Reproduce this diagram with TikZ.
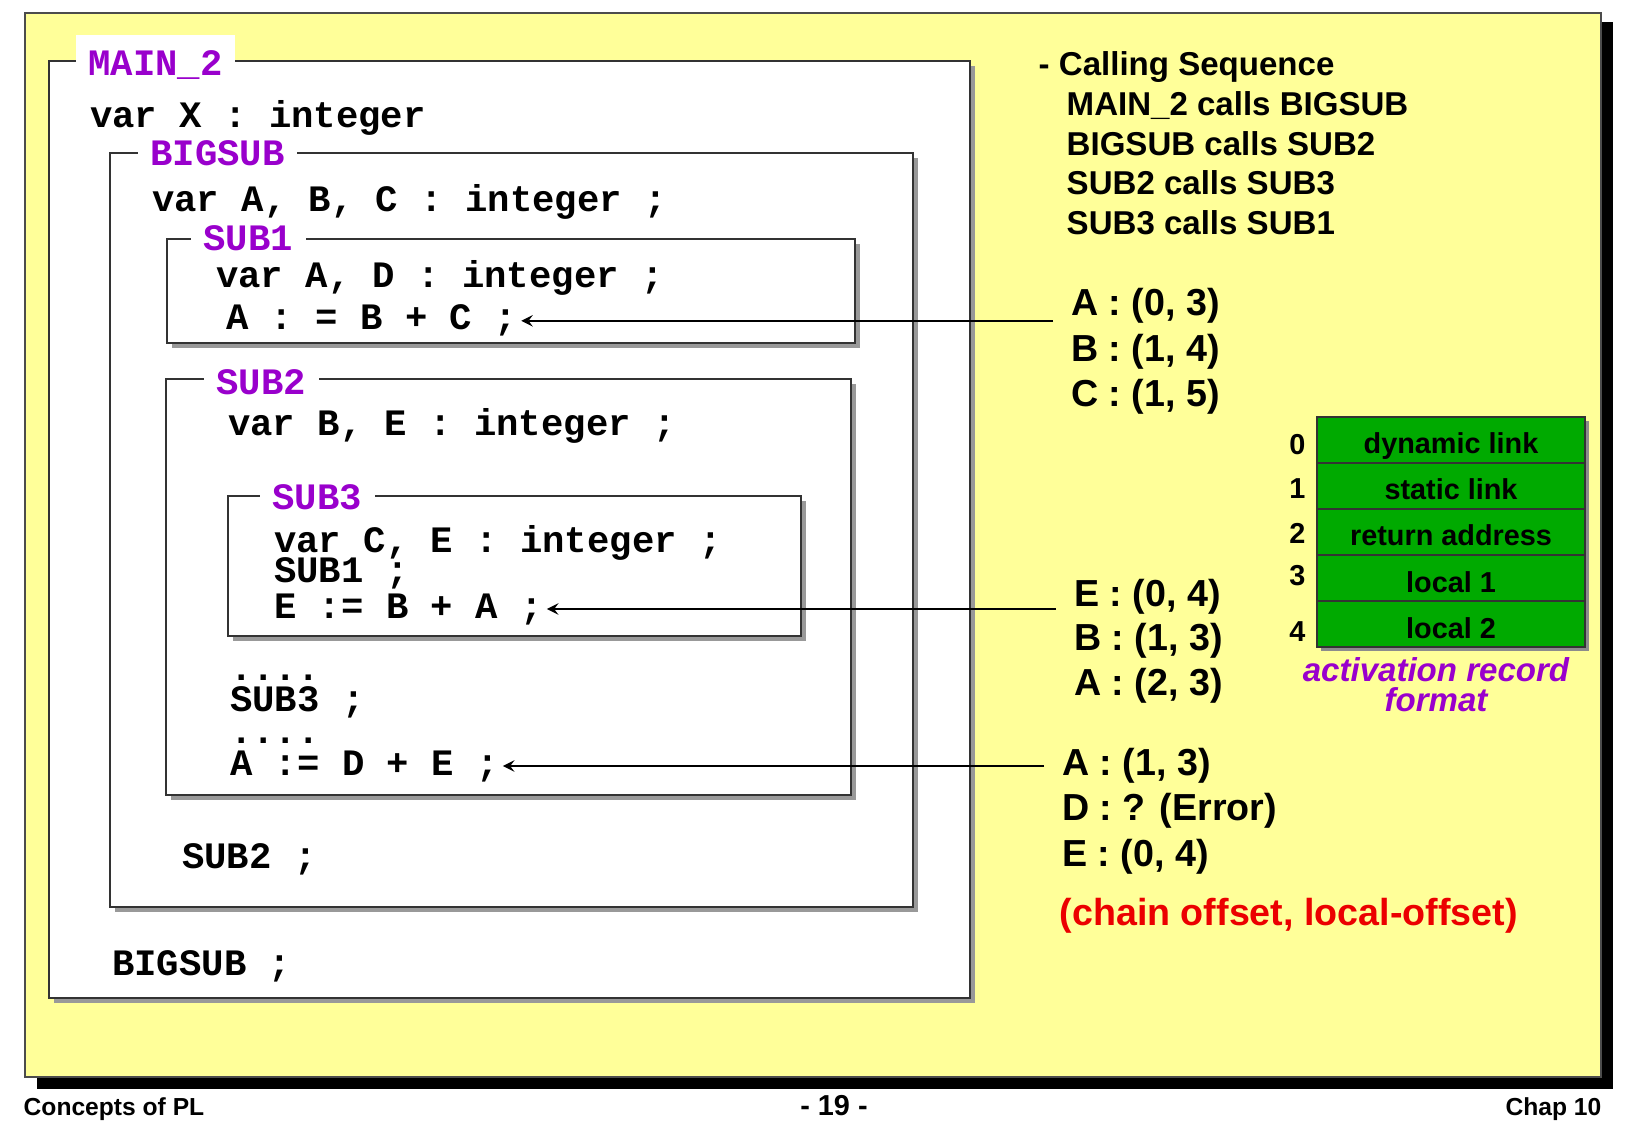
\documentclass[tikz,border=0pt]{standalone}
\usepackage{fontspec}
\setmainfont{Liberation Sans}
\setmonofont{Liberation Mono}
\usepackage{tikz}
\usetikzlibrary{arrows, shadows, positioning}
\definecolor{slideyellow}{RGB}{255,255,153}
\definecolor{labpurple}{RGB}{153,0,204}
\definecolor{argreen}{RGB}{0,170,0}
\definecolor{offred}{RGB}{235,0,0}
\newcommand{\codefont}{\ttfamily\bfseries\fontsize{10.6}{11}\selectfont}
\newcommand{\seqfont}{\bfseries\fontsize{9.4}{10}\selectfont}
\newcommand{\offsfont}{\bfseries\fontsize{10.7}{11}\selectfont}
\newcommand{\cellfont}{\bfseries\fontsize{8.2}{9}\selectfont}
\newcommand{\arcapfont}{\bfseries\itshape\fontsize{9.4}{10}\selectfont}
\newcommand{\pagefont}{\bfseries\fontsize{7}{8}\selectfont}
\tikzstyle{arrow} = [->,>=stealth, line width=0.45pt]
\tikzstyle{box} = [draw=black!80, line width=0.45pt, fill=white, drop shadow={shadow xshift=1.5pt, shadow yshift=-1.5pt, fill=black!40, opacity=1}]
\tikzstyle{tab} = [fill=white, text=labpurple, font=\codefont, inner xsep=3.6pt, inner ysep=1pt, anchor=base west]
\tikzstyle{code} = [font=\codefont, inner sep=1pt, anchor=base west]
\tikzstyle{seq} = [font=\seqfont, inner sep=0pt, anchor=base west]
\tikzstyle{offs} = [font=\offsfont, inner xsep=5pt, inner ysep=0pt, anchor=base west]
\tikzstyle{cell} = [draw=black!80, fill=argreen, minimum width=2.68cm, minimum height=0.46cm, inner sep=0pt, font=\cellfont, text height=1.5ex, text depth=0ex, drop shadow={shadow xshift=1.2pt, shadow yshift=-1.2pt, fill=black!45, opacity=1}]
\tikzstyle{idx} = [font=\cellfont, inner sep=0pt, anchor=east]

\begin{document}
\begin{tikzpicture}[x=0.01cm, y=-0.01cm, node distance=0.46cm]
		\useasboundingbox (0,0) rectangle (1625,1125);
		\fill [white] (0,0) rectangle (1625,1125);
		% slide
		\fill [black] (37,22) rectangle (1613,1089);
		\draw [draw=black!70, fill=slideyellow, line width=0.4pt] (25,13) rectangle (1601,1077);
		% nested program blocks
		\draw [box] (49,61) rectangle (970,998);
		\draw [box] (110,153) rectangle (913,907);
		\draw [box] (167,239) rectangle (855,343);
		\draw [box] (166,379) rectangle (851,795);
		\draw [box] (228,496) rectangle (801,636);
		\node (lmain) [tab, text height=10.7pt] at (75,76) {MAIN\_2};
		\node (lbig) [tab] at (137,166) {BIGSUB};
		\node (lsub1) [tab] at (190,251) {SUB1};
		\node (lsub2) [tab] at (203,395) {SUB2};
		\node (lsub3) [tab] at (259,509) {SUB3};
		\node (varx) [code] at (86,128) {var X : integer};
		\node (varabc) [code] at (148,212) {var A, B, C : integer ;};
		\node (varad) [code] at (212,288) {var A, D : integer ;};
		\node (codeA) [code] at (222,330) {A : = B + C ;};
		\node (varbe) [code] at (224,436) {var B, E : integer ;};
		\node (varce) [code] at (270,552) {var C, E : integer ;};
		\node (callsub1) [code] at (270,583) {SUB1 ;};
		\node (codeE) [code] at (270,618) {E := B + A ;};
		\node (dots1) [code] at (226,680) {....};
		\node (callsub3) [code] at (226,711) {SUB3 ;};
		\node (dots2) [code] at (226,743) {....};
		\node (codeD) [code] at (226,775) {A := D + E ;};
		\node (callsub2) [code] at (178,868) {SUB2 ;};
		\node (callbig) [code] at (108,975) {BIGSUB ;};
		% calling sequence
		\node (cs0) [seq] at (1038,76) {- Calling Sequence};
		\node (cs1) [seq] at (1066,116) {MAIN\_2 calls BIGSUB};
		\node (cs2) [seq] at ([yshift=-0.394cm]cs1.base west) {BIGSUB calls SUB2};
		\node (cs3) [seq] at ([yshift=-0.394cm]cs2.base west) {SUB2 calls SUB3};
		\node (cs4) [seq] at ([yshift=-0.394cm]cs3.base west) {SUB3 calls SUB1};
		% offsets
		\node (offA1) [offs] at (1053,316) {A : (0, 3)};
		\node (offA2) [offs] at ([yshift=-0.45cm]offA1.base west) {B : (1, 4)};
		\node (offA3) [offs] at ([yshift=-0.45cm]offA2.base west) {C : (1, 5)};
		\node (offE1) [offs] at (1056,606) {E : (0, 4)};
		\node (offE2) [offs] at ([yshift=-0.445cm]offE1.base west) {B : (1, 3)};
		\node (offE3) [offs] at ([yshift=-0.445cm]offE2.base west) {A : (2, 3)};
		\node (offD1) [offs] at (1044,775) {A : (1, 3)};
		\node (offD2) [offs] at ([yshift=-0.455cm]offD1.base west) {D : ? (Error)};
		\node (offD3) [offs] at ([yshift=-0.455cm]offD2.base west) {E : (0, 4)};
		\node (chain) [offs, text=offred, inner xsep=0pt] at (1059,925) {(chain offset, local-offset)};
		\draw [arrow] (offA1.west |- codeA) -- (codeA);
		\draw [arrow] (offE1.west |- codeE) -- (codeE);
		\draw [arrow] (offD1.west |- codeD) -- (codeD);
		% activation record
		\node (ar0) [cell] at (1451,440) {dynamic link};
		\node (ar1) [cell, below of=ar0] {static link};
		\node (ar2) [cell, below of=ar1] {return address};
		\node (ar3) [cell, below of=ar2] {local 1};
		\node (ar4) [cell, below of=ar3] {local 2};
		\node (i0) [idx] at ([xshift=-0.1cm, yshift=-0.045cm]ar0.west) {0};
		\node (i1) [idx] at ([xshift=-0.1cm, yshift=-0.025cm]ar1.west) {1};
		\node (i2) [idx] at ([xshift=-0.1cm, yshift=-0.015cm]ar2.west) {2};
		\node (i3) [idx] at ([xshift=-0.1cm, yshift=0.02cm]ar3.west) {3};
		\node (i4) [idx] at ([xshift=-0.1cm, yshift=-0.07cm]ar4.west) {4};
		\node (arcap1) [font=\arcapfont, text=labpurple, anchor=base, inner sep=0pt] at ([xshift=-0.15cm, yshift=-0.57cm]ar4.center) {activation record};
		\node (arcap2) [font=\arcapfont, text=labpurple, anchor=base, inner sep=0pt] at ([yshift=-0.3cm]arcap1.base) {format};
		% page footer
		\node (ftl) [font=\pagefont, anchor=base west, inner sep=0pt] at (23,1115) {Concepts of PL};
		\node (ftc) [font=\bfseries\fontsize{8.2}{9}\selectfont, anchor=base, inner sep=0pt] at (834,1115) {- 19 -};
		\node (ftr) [font=\pagefont, anchor=base east, inner sep=0pt] at (1602,1115) {Chap 10};
\end{tikzpicture}
\end{document}
